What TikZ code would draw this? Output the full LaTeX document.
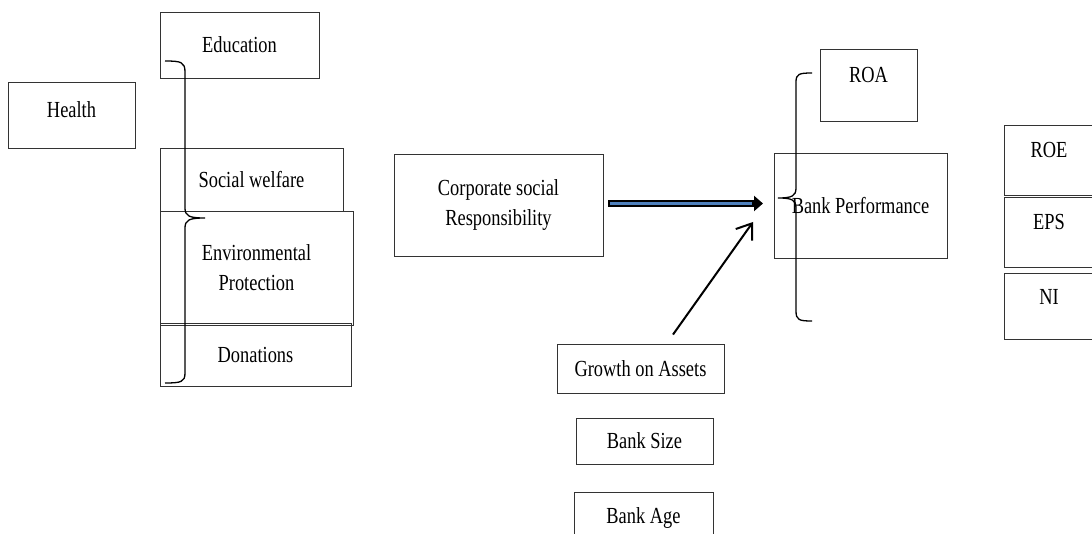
\documentclass[tikz,border=0pt]{standalone}
\usepackage{fontspec}
\setmainfont{Liberation Serif}[FakeStretch=0.8]
\usetikzlibrary{arrows.meta,calc}
\definecolor{csrblue}{RGB}{79,129,189}

\begin{document}
\begin{tikzpicture}[x=1pt,y=-1pt,
  box/.style={draw=black!80,line width=0.9pt,inner sep=0pt,align=center,
    font=\fontsize{23}{30}\selectfont},
  up/.style={text depth=#1}]
\useasboundingbox (0,0) rectangle (1092,534);
\clip (0,0) rectangle (1092,534);
% CSR dimensions
\node[box,minimum width=159pt,minimum height=66pt] (edu) at (239.5,45) {Education};
\node[box,up=10pt,minimum width=127pt,minimum height=66pt] (health) at (71.5,115) {Health};
\node[box,minimum width=183pt,minimum height=63pt] (welfare) at (251.5,179.5) {Social welfare};
\node[box,minimum width=193pt,minimum height=114pt] (env) at (256.5,268) {Environmental\\Protection};
\node[box,minimum width=191pt,minimum height=63pt] (don) at (255.5,354.5) {Donations};
% independent and control variables
\node[box,minimum width=209pt,minimum height=102pt] (csr) at (498.5,205) {Corporate social\\Responsibility};
\node[box,minimum width=167pt,minimum height=49pt] (growth) at (640.5,368.5) {Growth on Assets};
\node[box,minimum width=137pt,minimum height=46pt] (size) at (644.5,441) {Bank Size};
\node[box,minimum width=139pt,minimum height=52pt] (age) at (643.5,518) {Bank Age};
% performance measures
\node[box,up=20pt,minimum width=97pt,minimum height=72pt] (roa) at (868.5,85) {ROA};
\node[box,minimum width=173pt,minimum height=105pt] (perf) at (860.5,205.5) {Bank Performance};
\node[box,up=20pt,minimum width=90pt,minimum height=70pt] (roe) at (1049,160) {ROE};
\node[box,up=20pt,minimum width=90pt,minimum height=70pt] (eps) at (1049,232) {EPS};
\node[box,up=18pt,minimum width=90pt,minimum height=66pt] (ni) at (1049,306) {NI};
% braces
\draw[line width=1.3pt] (165,61) .. controls (181,61) and (185,62) .. (185,72) -- (185,208)
  .. controls (185,216) and (189,218) .. (205,218) .. controls (189,218) and (185,220) .. (185,228)
  -- (185,373) .. controls (185,382) and (181,383) .. (165,383);
\draw[line width=1.3pt] (812,73) .. controls (799,73) and (796,74) .. (796,82) -- (796,188)
  .. controls (796,196) and (792,198) .. (778,198) .. controls (792,198) and (796,200) .. (796,208)
  -- (796,311) .. controls (796,320) and (799,321) .. (812,321);
% arrows
\coordinate (bpin) at (763,203.5);
\coordinate (bpin2) at (753,222);
\draw[line width=7.5pt,-{Triangle[length=9pt,width=15pt]}] ($(csr.east)+(5,-1.5)$) -- (bpin);
\draw[line width=3pt,csrblue,shorten <=2pt,shorten >=11pt] ($(csr.east)+(5,-1.5)$) -- (bpin);
\draw[line width=2pt,-{Straight Barb[length=14pt,width=20pt]}] ($(growth.north)+(32.5,-9)$) -- (bpin2);
\end{tikzpicture}
\end{document}
